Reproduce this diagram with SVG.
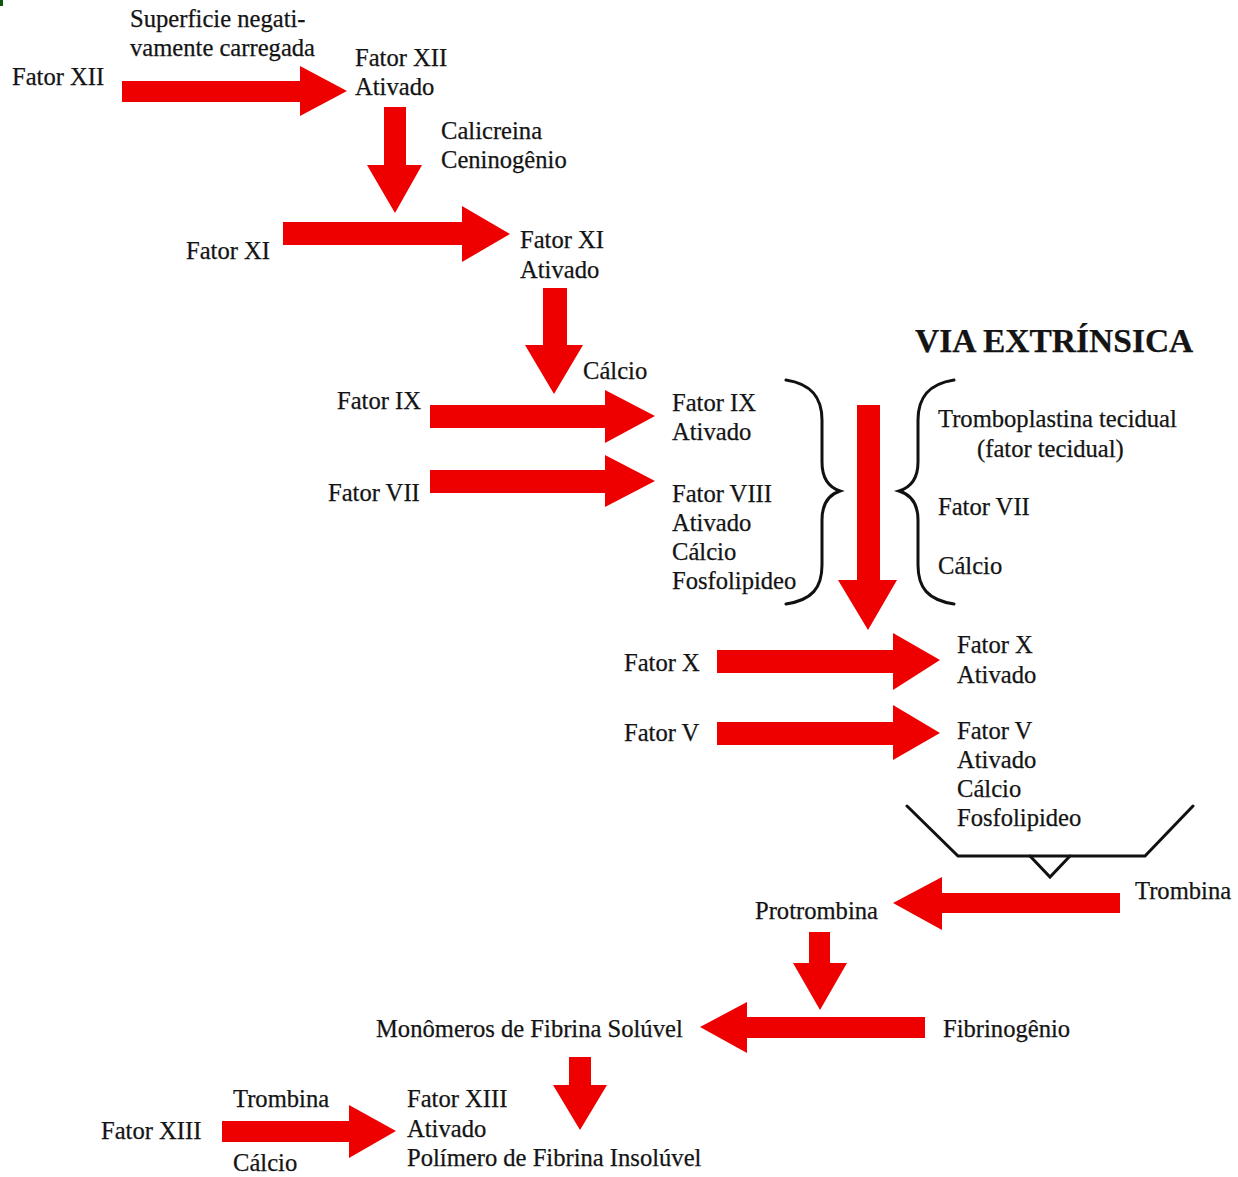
<svg xmlns="http://www.w3.org/2000/svg" width="1238" height="1177" viewBox="0 0 1238 1177">
  <style>
    text { font-family: "Liberation Serif", "Times New Roman", serif; font-size: 24.6px; fill: #141414; stroke: #141414; stroke-width: 0.25; }
    .title { font-size: 33.5px; font-weight: bold; }
    .arrow { fill: #ee0000; }
    .brace { fill: none; stroke: #111; stroke-width: 3; stroke-linecap: round; stroke-linejoin: miter; }
  </style>
  <rect width="1238" height="1177" fill="#ffffff"/>
  <rect x="0" y="0" width="3" height="6" fill="#0b5a0b"/>

  <!-- block arrows, braces and the reaction bracket -->
  <g id="connectors">
    <polygon class="arrow" points="122,81 300,81 300,66 347,91 300,116 300,102 122,102"/>
    <polygon class="arrow" points="384,107 406,107 406,165 422,165 395,213 367,165 384,165"/>
    <polygon class="arrow" points="283,222 462,222 462,206 510,234 462,262 462,245 283,245"/>
    <polygon class="arrow" points="543,288 567,288 567,345 583,345 554,394 525,345 543,345"/>
    <polygon class="arrow" points="430,405 605,405 605,390 655,416 605,443 605,428 430,428"/>
    <polygon class="arrow" points="430,470 605,470 605,455 655,481 605,507 605,493 430,493"/>
    <polygon class="arrow" points="857,405 880,405 880,580 897,580 868,630 838,580 857,580"/>
    <polygon class="arrow" points="717,650 893,650 893,633 940,660 893,690 893,673 717,673"/>
    <polygon class="arrow" points="717,722 893,722 893,705 940,733 893,760 893,745 717,745"/>
    <polygon class="arrow" points="1120,893 942,893 942,877 893,903 942,930 942,913 1120,913"/>
    <polygon class="arrow" points="809,932 830,932 830,963 847,963 820,1010 793,963 809,963"/>
    <polygon class="arrow" points="925,1017 747,1017 747,1002 700,1027 747,1053 747,1038 925,1038"/>
    <polygon class="arrow" points="569,1057 591,1057 591,1085 607,1085 580,1130 553,1085 569,1085"/>
    <polygon class="arrow" points="222,1121 349,1121 349,1105 396,1131 349,1158 349,1142 222,1142"/>

    <!-- closing brace after the intrinsic cofactors -->
    <path class="brace" d="M786,380 C812,384 822,398 822,420 L822,462 C822,478 828,487 840,491 C828,495 822,504 822,520 L822,565 C822,588 812,600 786,604"/>
    <!-- opening brace before the extrinsic cofactors -->
    <path class="brace" d="M954,380 C928,384 918,398 918,420 L918,462 C918,478 912,487 899,491 C912,495 918,504 918,520 L918,565 C918,588 928,600 954,604"/>

    <!-- prothrombinase bracket -->
    <path class="brace" d="M907,806 L958,856 L1145,856 L1193,806"/>
    <path class="brace" d="M1030,856 L1050,877 L1070,856"/>
  </g>

  <g id="superficie">
    <text x="130" y="27">Superficie negati-</text>
    <text x="130" y="56">vamente carregada</text>
  </g>
  <g id="fator-xii"><text x="12" y="85">Fator XII</text></g>
  <g id="fator-xii-ativado">
    <text x="355" y="66">Fator XII</text>
    <text x="355" y="95">Ativado</text>
  </g>
  <g id="calicreina">
    <text x="441" y="139">Calicreina</text>
    <text x="441" y="168">Ceninogênio</text>
  </g>
  <g id="fator-xi"><text x="186" y="259">Fator XI</text></g>
  <g id="fator-xi-ativado">
    <text x="520" y="248">Fator XI</text>
    <text x="520" y="278">Ativado</text>
  </g>
  <g id="calcio-ix"><text x="583" y="379">Cálcio</text></g>
  <g id="fator-ix"><text x="337" y="409">Fator IX</text></g>
  <g id="fator-ix-ativado">
    <text x="672" y="411">Fator IX</text>
    <text x="672" y="440">Ativado</text>
  </g>
  <g id="fator-vii-left"><text x="328" y="501">Fator VII</text></g>
  <g id="fator-viii-ativado">
    <text x="672" y="502">Fator VIII</text>
    <text x="672" y="531">Ativado</text>
    <text x="672" y="560">Cálcio</text>
    <text x="672" y="589">Fosfolipideo</text>
  </g>
  <g id="via-extrinsica"><text class="title" x="915" y="352">VIA EXTRÍNSICA</text></g>
  <g id="extrinsic-factors">
    <text x="938" y="427">Tromboplastina tecidual</text>
    <text x="977" y="457">(fator tecidual)</text>
    <text x="938" y="515">Fator VII</text>
    <text x="938" y="574">Cálcio</text>
  </g>
  <g id="fator-x"><text x="624" y="671">Fator X</text></g>
  <g id="fator-x-ativado">
    <text x="957" y="653">Fator X</text>
    <text x="957" y="683">Ativado</text>
  </g>
  <g id="fator-v"><text x="624" y="741">Fator V</text></g>
  <g id="fator-v-ativado">
    <text x="957" y="739">Fator V</text>
    <text x="957" y="768">Ativado</text>
    <text x="957" y="797">Cálcio</text>
    <text x="957" y="826">Fosfolipideo</text>
  </g>
  <g id="trombina"><text x="1135" y="899">Trombina</text></g>
  <g id="protrombina"><text x="755" y="919">Protrombina</text></g>
  <g id="monomeros"><text x="376" y="1037">Monômeros de Fibrina Solúvel</text></g>
  <g id="fibrinogenio"><text x="943" y="1037">Fibrinogênio</text></g>
  <g id="fator-xiii-cofactors">
    <text x="233" y="1107">Trombina</text>
    <text x="233" y="1171">Cálcio</text>
  </g>
  <g id="fator-xiii"><text x="101" y="1139">Fator XIII</text></g>
  <g id="fator-xiii-ativado">
    <text x="407" y="1107">Fator XIII</text>
    <text x="407" y="1137">Ativado</text>
    <text x="407" y="1166">Polímero de Fibrina Insolúvel</text>
  </g>
</svg>
